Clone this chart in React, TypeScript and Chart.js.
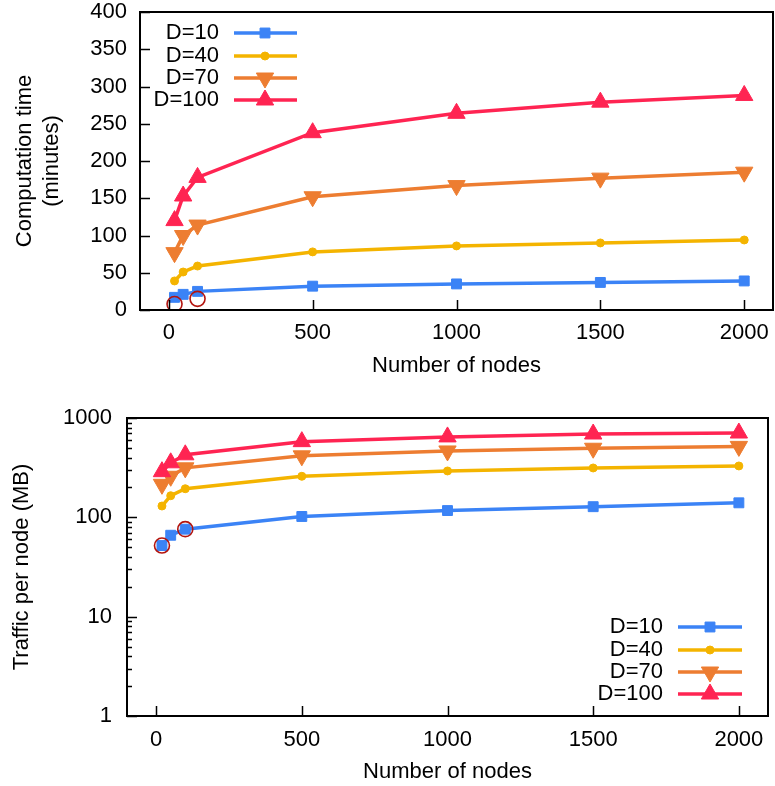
import React, { useEffect, useRef } from 'react';
import { Chart, registerables } from 'chart.js';

Chart.register(...registerables);

// ---------- data ----------
const nodes = [20, 50, 100, 500, 1000, 1500, 2000];
const seriesLabels = ['D=10', 'D=40', 'D=70', 'D=100'];

const timeD10 = [17, 21, 25, 32, 35, 37, 39];
const timeD40 = [39, 51, 59, 78, 86, 90, 94];
const timeD70 = [77, 100, 114, 152, 167, 177, 185];
const timeD100 = [120, 153, 178, 238, 264, 279, 288];
const timeMarkedNodes = [20, 100];
const timeMarked = [8, 15];

const trafficD10 = [52, 66, 76, 102, 117, 128, 140];
const trafficD40 = [130, 165, 194, 259, 293, 314, 329];
const trafficD70 = [215, 259, 315, 416, 466, 496, 518];
const trafficD100 = [288, 354, 426, 578, 645, 690, 706];
const trafficMarkedNodes = [20, 100];
const trafficMarked = [52, 76];

const xTicks = [0, 500, 1000, 1500, 2000];
const timeTicks = [0, 50, 100, 150, 200, 250, 300, 350, 400];
const trafficTicks = [1, 10, 100, 1000];

// ---------- styles ----------
const FONT = '"Liberation Sans", Arial, Helvetica, sans-serif';
const FS = 22;
const colors = ['#3b83f6', '#f4b400', '#ed7d31', '#ff2452'];
const markColor = '#b3140e';
const markerStyles = [
  { pointStyle: 'rect', radius: 7, rotation: 0 },
  { pointStyle: 'circle', radius: 4, rotation: 0 },
  { pointStyle: 'triangle', radius: 10, rotation: 180 },
  { pointStyle: 'triangle', radius: 10, rotation: 0 },
];

Chart.defaults.font.family = FONT;
Chart.defaults.font.size = FS;
Chart.defaults.color = '#000';

const zeroPadding = () => ({ left: 0, top: 0, right: 0, bottom: 0 });

function drawMarker(ctx: CanvasRenderingContext2D, style: string, r: number, rotDeg: number, x: number, y: number, color: string) {
  ctx.save();
  ctx.fillStyle = color;
  ctx.strokeStyle = color;
  ctx.lineWidth = 1;
  ctx.beginPath();
  if (style === 'rect') {
    const s = r * Math.SQRT1_2;
    ctx.rect(x - s, y - s, 2 * s, 2 * s);
  } else if (style === 'circle') {
    ctx.arc(x, y, r, 0, Math.PI * 2);
  } else {
    let rad = (rotDeg * Math.PI) / 180;
    const step = (2 * Math.PI) / 3;
    ctx.moveTo(x + Math.sin(rad) * r, y - Math.cos(rad) * r);
    rad += step;
    ctx.lineTo(x + Math.sin(rad) * r, y - Math.cos(rad) * r);
    rad += step;
    ctx.lineTo(x + Math.sin(rad) * r, y - Math.cos(rad) * r);
    ctx.closePath();
  }
  ctx.fill();
  ctx.stroke();
  ctx.restore();
}

type LegendPos = (a: { left: number; right: number; top: number; bottom: number }) => {
  textRight: number; line0: number; line1: number; marker: number; rows: number[];
};

function makeFramePlugin(legendPos: LegendPos, isLog: boolean) {
  return {
    id: 'frameTicksLegend',
    afterDraw(chart: any) {
      const { ctx, chartArea: a } = chart;
      const xs = chart.scales.x;
      const ys = chart.scales.y;
      ctx.save();
      ctx.strokeStyle = '#000';
      ctx.lineWidth = 1.5;
      ctx.beginPath();
      for (const t of xs.ticks) {
        const px = Math.round(xs.getPixelForValue(t.value)) + 0.5;
        ctx.moveTo(px, a.bottom);
        ctx.lineTo(px, a.bottom - 10);
      }
      for (const t of ys.ticks) {
        const py = Math.round(ys.getPixelForValue(t.value)) + 0.5;
        let major = true;
        if (isLog) {
          const l = Math.log10(t.value);
          major = Math.abs(l - Math.round(l)) < 1e-9;
        }
        ctx.moveTo(a.left, py);
        ctx.lineTo(a.left + (major ? 10 : 5), py);
      }
      ctx.stroke();
      ctx.lineWidth = 2;
      ctx.strokeRect(a.left, a.top, a.right - a.left, a.bottom - a.top);

      // legend
      const lp = legendPos(a);
      ctx.font = `${FS}px ${FONT}`;
      ctx.textAlign = 'right';
      ctx.textBaseline = 'middle';
      ctx.fillStyle = '#000';
      seriesLabels.forEach((lab, i) => {
        const y = lp.rows[i];
        ctx.fillText(lab, lp.textRight, y);
        ctx.strokeStyle = colors[i];
        ctx.lineWidth = 3.5;
        ctx.beginPath();
        ctx.moveTo(lp.line0, y);
        ctx.lineTo(lp.line1, y);
        ctx.stroke();
        const m = markerStyles[i];
        drawMarker(ctx, m.pointStyle, m.radius, m.rotation, lp.marker, y, colors[i]);
      });
      ctx.restore();
    },
  };
}

function buildDatasets(series: number[][], markedNodes: number[], marked: number[]) {
  const ds: any[] = series.map((vals, i) => ({
    label: seriesLabels[i],
    data: nodes.map((n, j) => ({ x: n, y: vals[j] })),
    borderColor: colors[i],
    backgroundColor: colors[i],
    borderWidth: 3.5,
    pointStyle: markerStyles[i].pointStyle,
    pointRadius: markerStyles[i].radius,
    pointRotation: markerStyles[i].rotation,
    pointBorderWidth: 1,
    pointBorderColor: colors[i],
    pointBackgroundColor: colors[i],
    order: 4 - i,
  }));
  ds.push({
    label: 'marked',
    data: markedNodes.map((n, j) => ({ x: n, y: marked[j] })),
    showLine: false,
    pointStyle: 'circle',
    pointRadius: 7.5,
    pointBorderWidth: 1.6,
    pointBorderColor: markColor,
    pointBackgroundColor: 'rgba(0,0,0,0)',
    borderColor: markColor,
    backgroundColor: 'rgba(0,0,0,0)',
    order: 0,
  });
  return ds;
}

const plainNumber = (v: any) => String(Math.round(Number(v)));

function xScale(height: number, tickPad: number, titlePadBottom: number) {
  return {
    type: 'linear',
    min: -100,
    max: 2100,
    grid: { display: false, drawTicks: false },
    border: { display: false },
    afterBuildTicks: (s: any) => {
      s.ticks = xTicks.map((v) => ({ value: v }));
    },
    ticks: { padding: tickPad, color: '#000', font: { size: FS }, maxRotation: 0, autoSkip: false, callback: plainNumber },
    title: { display: true, text: 'Number of nodes', color: '#000', font: { size: FS }, padding: { top: 0, bottom: titlePadBottom } },
    afterFit: (s: any) => {
      s.height = height;
      s.paddingLeft = 0;
      s.paddingRight = 0;
      s.getPadding = zeroPadding;
    },
  };
}

function topConfig(): any {
  return {
    type: 'line',
    data: { datasets: buildDatasets([timeD10, timeD40, timeD70, timeD100], timeMarkedNodes, timeMarked) },
    options: {
      animation: false,
      responsive: false,
      devicePixelRatio: 1,
      events: [],
      layout: { padding: { top: 12, right: 0, left: 0, bottom: 0 } },
      plugins: { legend: { display: false }, tooltip: { enabled: false } },
      scales: {
        x: xScale(80, 10, 10.8),
        y: {
          type: 'linear',
          min: 0,
          max: 400,
          grid: { display: false, drawTicks: false },
          border: { display: false },
          afterBuildTicks: (s: any) => {
            s.ticks = timeTicks.map((v) => ({ value: v }));
          },
          ticks: { padding: 13, color: '#000', font: { size: FS }, autoSkip: false, callback: plainNumber },
          title: {
            display: true,
            text: ['Computation time', '(minutes)'],
            color: '#000',
            font: { size: FS, lineHeight: 1.25 },
            padding: { top: 11, bottom: 0 },
          },
          afterFit: (s: any) => {
            s.width = 140;
            s.paddingTop = 0;
            s.paddingBottom = 0;
            s.getPadding = zeroPadding;
          },
        },
      },
    },
    plugins: [
      makeFramePlugin(
        (a) => ({
          textRight: a.left + 79,
          line0: a.left + 94,
          line1: a.left + 157,
          marker: a.left + 125,
          rows: [a.top + 21, a.top + 44, a.top + 66, a.top + 88],
        }),
        false
      ),
    ],
  };
}

function bottomConfig(): any {
  const logTicks: number[] = [];
  for (let d = 0; d < trafficTicks.length - 1; d++) {
    for (let k = 1; k <= 9; k++) logTicks.push(trafficTicks[d] * k);
  }
  logTicks.push(trafficTicks[trafficTicks.length - 1]);
  return {
    type: 'line',
    data: { datasets: buildDatasets([trafficD10, trafficD40, trafficD70, trafficD100], trafficMarkedNodes, trafficMarked) },
    options: {
      animation: false,
      responsive: false,
      devicePixelRatio: 1,
      events: [],
      layout: { padding: { top: 28, right: 0, left: 0, bottom: 0 } },
      plugins: { legend: { display: false }, tooltip: { enabled: false } },
      scales: {
        x: xScale(70, 11, 0.8),
        y: {
          type: 'logarithmic',
          min: 1,
          max: 1000,
          grid: { display: false, drawTicks: false },
          border: { display: false },
          afterBuildTicks: (s: any) => {
            s.ticks = logTicks.map((v) => ({ value: v }));
          },
          ticks: {
            padding: 15,
            color: '#000',
            font: { size: FS },
            autoSkip: false,
            callback: (v: any) => {
              const l = Math.log10(Number(v));
              return Math.abs(l - Math.round(l)) < 1e-9 ? String(Math.round(Number(v))) : '';
            },
          },
          title: {
            display: true,
            text: 'Traffic per node (MB)',
            color: '#000',
            font: { size: FS },
            padding: { top: 8.8, bottom: 0 },
          },
          afterFit: (s: any) => {
            s.width = 127;
            s.paddingTop = 0;
            s.paddingBottom = 0;
            s.getPadding = zeroPadding;
          },
        },
      },
    },
    plugins: [
      makeFramePlugin(
        (a) => ({
          textRight: a.right - 105,
          line0: a.right - 90,
          line1: a.right - 26,
          marker: a.right - 58,
          rows: [a.bottom - 89, a.bottom - 66, a.bottom - 44, a.bottom - 22],
        }),
        true
      ),
    ],
  };
}

function ChartCanvas({ width, height, config }: { width: number; height: number; config: () => any }) {
  const ref = useRef<HTMLCanvasElement>(null);
  useEffect(() => {
    const chart = new Chart(ref.current as HTMLCanvasElement, config());
    return () => chart.destroy();
  }, []);
  return (
    <div style={{ width: 775, height, overflow: 'hidden' }}>
      <canvas ref={ref} width={width} height={height} style={{ display: 'block', width, height }} />
    </div>
  );
}

export default function App() {
  return (
    <div style={{ position: 'absolute', left: 0, top: 0, width: 775, height: 786, overflow: 'hidden', background: '#fff' }}>
      <ChartCanvas width={784} height={390} config={topConfig} />
      <ChartCanvas width={779} height={396} config={bottomConfig} />
    </div>
  );
}
